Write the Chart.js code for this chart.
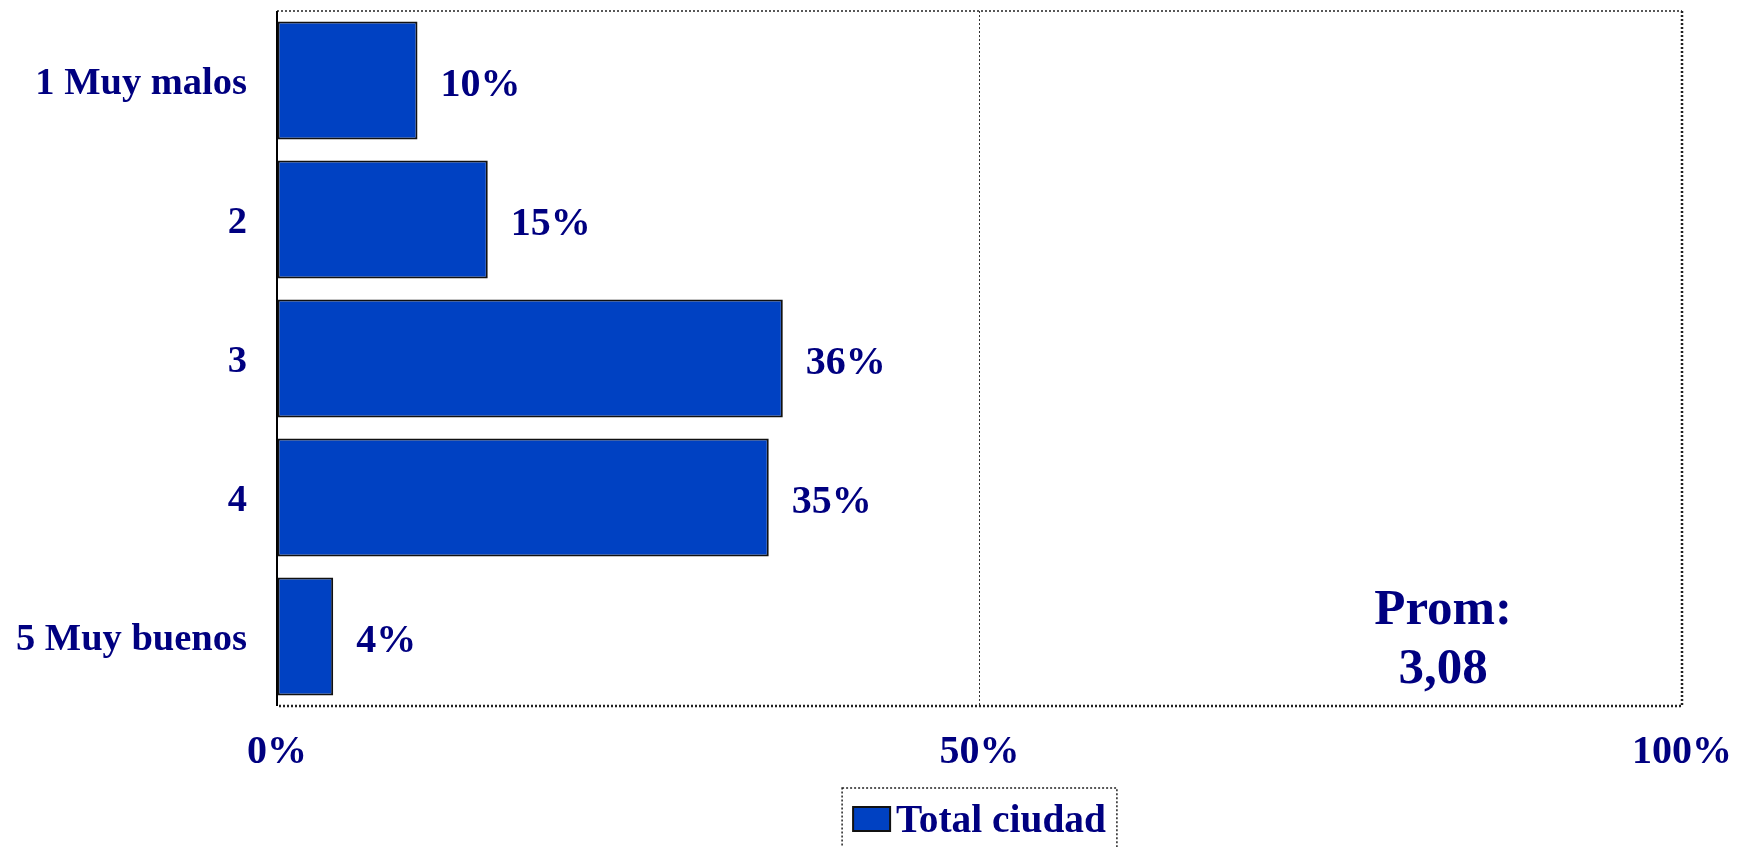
<!DOCTYPE html>
<html>
<head>
<meta charset="utf-8">
<script src="https://cdn.jsdelivr.net/npm/chart.js@4.4.1/dist/chart.umd.min.js"></script>
<style>
  html, body { margin: 0; padding: 0; background: #ffffff; }
  #wrap { width: 1751px; height: 847px; }
</style>
</head>
<body>
<div id="wrap"><canvas id="c" width="1751" height="847"></canvas></div>
<script>
// ---- data ----
const categories = ["1 Muy malos", "2", "3", "4", "5 Muy buenos"];
const seriesName = "Total ciudad";
const seriesValues = [10, 15, 36, 35, 4];
const xTickValues = [0, 50, 100];
const xTickLabels = ["0%", "50%", "100%"];
const averageLines = ["Prom:", "3,08"];
const averageAnchor = { x: 83, category: "5 Muy buenos" };

// ---- styles ----
const NAVY = "#000080";
const BAR = "#0041C2";
const FONT = "'Liberation Serif', 'Times New Roman', serif";
const FS = 40;

const frameAndLabels = {
  id: "frameAndLabels",
  beforeDatasetsDraw(chart) {
    const { ctx, chartArea: a } = chart;
    ctx.save();
    ctx.strokeStyle = "#222";
    ctx.setLineDash([2, 2]);
    ctx.lineWidth = 1.5;
    ctx.beginPath();
    ctx.moveTo(a.left, a.top); ctx.lineTo(a.right, a.top);
    ctx.stroke();
    ctx.lineWidth = 2.5;
    ctx.beginPath();
    ctx.moveTo(a.right, a.top); ctx.lineTo(a.right, a.bottom); ctx.lineTo(a.left, a.bottom);
    ctx.stroke();
    ctx.setLineDash([]);
    ctx.strokeStyle = "#000";
    ctx.lineWidth = 2;
    ctx.beginPath();
    ctx.moveTo(a.left, a.top); ctx.lineTo(a.left, a.bottom);
    ctx.stroke();
    ctx.restore();
  },
  afterDatasetsDraw(chart) {
    const { ctx, chartArea: a, scales } = chart;
    const meta = chart.getDatasetMeta(0);
    ctx.save();
    ctx.fillStyle = NAVY;
    ctx.font = "bold " + FS + "px " + FONT;
    ctx.textAlign = "left";
    ctx.textBaseline = "middle";
    meta.data.forEach((bar, i) => {
      ctx.fillText(seriesValues[i] + "%", bar.x + 23, bar.y + 5);
    });
    // average annotation
    ctx.font = "bold 51px " + FONT;
    ctx.textAlign = "center";
    const ax = scales.x.getPixelForValue(averageAnchor.x);
    const ay = scales.y.getPixelForValue(categories.indexOf(averageAnchor.category));
    ctx.fillText(averageLines[0], ax, ay - 26);
    ctx.fillText(averageLines[1], ax, ay + 33);
    // legend
    const ds = chart.data.datasets[0];
    ctx.font = "bold 39.4px " + FONT;
    const tw = ctx.measureText(ds.label).width;
    const sw = 37, sh = 24, gap = 6, pad = 11;
    const bw = pad + sw + gap + tw + pad;
    const cx = (a.left + a.right) / 2;
    const bx = cx - bw / 2;
    const by = a.bottom + 82;
    ctx.strokeStyle = "#222";
    ctx.lineWidth = 1.5;
    ctx.setLineDash([2, 2]);
    ctx.strokeRect(bx, by, bw, 120);
    ctx.setLineDash([]);
    ctx.fillStyle = ds.backgroundColor;
    ctx.fillRect(bx + pad, by + 19, sw, sh);
    ctx.strokeStyle = "#111";
    ctx.lineWidth = 2;
    ctx.strokeRect(bx + pad, by + 19, sw, sh);
    ctx.fillStyle = NAVY;
    ctx.textAlign = "left";
    ctx.textBaseline = "middle";
    ctx.fillText(ds.label, bx + pad + sw + gap, by + 34);
    ctx.restore();
  }
};

new Chart(document.getElementById("c"), {
  type: "bar",
  data: {
    labels: categories,
    datasets: [{
      label: seriesName,
      data: seriesValues,
      backgroundColor: BAR,
      borderColor: "#111",
      borderWidth: 2,
      borderSkipped: false,
      categoryPercentage: 1,
      barPercentage: 0.85
    }]
  },
  options: {
    indexAxis: "y",
    responsive: false,
    devicePixelRatio: 1,
    animation: false,
    layout: { padding: { top: 11, right: 69, left: 0, bottom: 0 } },
    plugins: { legend: { display: false }, tooltip: { enabled: false } },
    scales: {
      x: {
        min: 0, max: 100,
        afterBuildTicks(scale) { scale.ticks = xTickValues.map(v => ({ value: v })); },
        afterFit(scale) { scale.height = 141; scale.paddingLeft = 0; scale.paddingRight = 0; },
        ticks: {
          autoSkip: false,
          maxRotation: 0,
          padding: 23,
          color: NAVY,
          font: { family: FONT, size: FS, weight: "bold" },
          callback: (v) => xTickLabels[xTickValues.indexOf(v)]
        },
        grid: {
          drawTicks: false,
          color: (c) => (c.tick && c.tick.value === 50 ? "#333" : "rgba(0,0,0,0)"),
          lineWidth: 1
        },
        border: { display: false, dash: [2, 2] }
      },
      y: {
        afterFit(scale) { scale.width = 277; scale.paddingTop = 0; scale.paddingBottom = 0; },
        ticks: {
          padding: 30,
          labelOffset: 4,
          color: NAVY,
          font: { family: FONT, size: 38.5, weight: "bold" }
        },
        grid: { display: false, drawTicks: false },
        border: { display: false }
      }
    }
  },
  plugins: [frameAndLabels]
});
</script>
</body>
</html>
